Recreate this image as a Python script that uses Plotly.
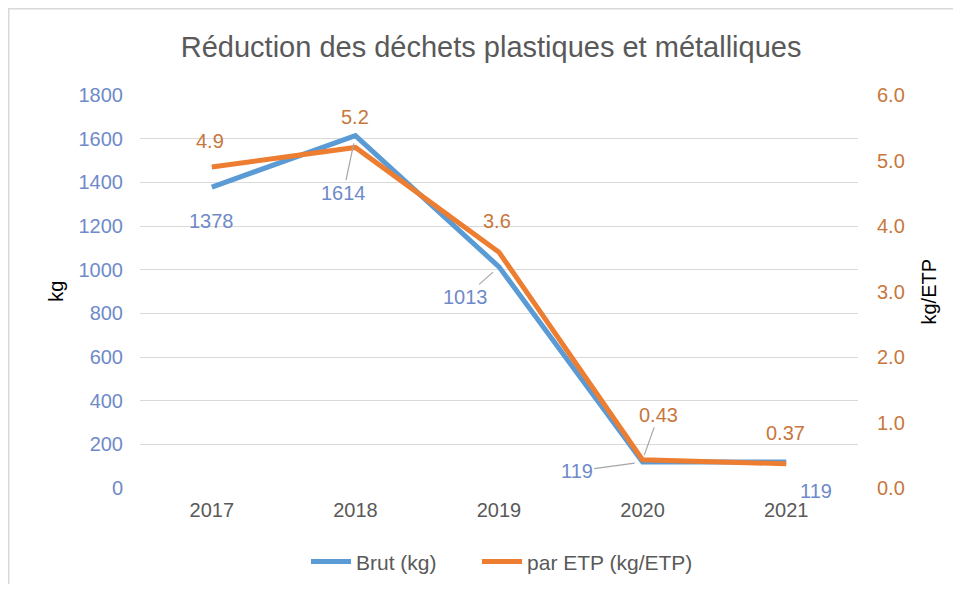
import plotly.graph_objects as go

years = ["2017", "2018", "2019", "2020", "2021"]
brut_kg = [1378, 1614, 1013, 119, 119]
par_etp = [4.9, 5.2, 3.6, 0.43, 0.37]
etp_labels = ["4.9", "5.2", "3.6", "0.43", "0.37"]

BLUE = "#5B9BD5"
ORANGE = "#ED7D31"
BLUE_TXT = "#6F8AC9"
ORANGE_TXT = "#C7773D"
GREY = "#595959"
FONT = "Liberation Sans, Arial, sans-serif"
FS = 20

# figure is placed by the page at (8, 8); size chosen to fit the window
W, H = 945, 576
L, T = 132, 87
PW, PH = 718, 393
R, B = W - L - PW, H - T - PH

fig = go.Figure()
fig.add_trace(go.Scatter(x=years, y=brut_kg, mode="lines", name="Brut (kg)",
                         line=dict(color=BLUE, width=5), legend="legend", showlegend=True))
fig.add_trace(go.Scatter(x=years, y=par_etp, mode="lines", name="par ETP (kg/ETP)",
                         line=dict(color=ORANGE, width=5), yaxis="y2", legend="legend2",
                         showlegend=True))

# label offsets (pixels) and whether a leader line is drawn
brut_off = [(0, 34, False), (-12, 57, True), (-34, 30, True), (-66, 9, True), (30, 29, False)]
etp_off = [(-2, -26, False), (0, -30, False), (-2, -31, False), (16, -45, True), (-1, -31, False)]

annos = []
for i, (ax, ay, lead) in enumerate(brut_off):
    annos.append(dict(x=i, y=brut_kg[i], xref="x", yref="y", text=str(brut_kg[i]),
                      showarrow=True, ax=ax, ay=ay, arrowhead=0, arrowwidth=1.2,
                      arrowcolor="#A6A6A6" if lead else "rgba(0,0,0,0)", standoff=8,
                      font=dict(color=BLUE_TXT, size=FS, family=FONT)))
for i, (ax, ay, lead) in enumerate(etp_off):
    annos.append(dict(x=i, y=par_etp[i], xref="x", yref="y2", text=etp_labels[i],
                      showarrow=True, ax=ax, ay=ay, arrowhead=0, arrowwidth=1.2,
                      arrowcolor="#A6A6A6" if lead else "rgba(0,0,0,0)", standoff=5,
                      font=dict(color=ORANGE_TXT, size=FS, family=FONT)))

annos.append(dict(text="kg", xref="paper", yref="paper", x=-0.118, y=0.5, showarrow=False,
                  xanchor="center", yanchor="middle",
                  textangle=-90, font=dict(color="#000000", size=FS, family=FONT)))
annos.append(dict(text="kg/ETP", xref="paper", yref="paper", x=1.0975, y=0.5, showarrow=False,
                  xanchor="center", yanchor="middle",
                  textangle=-90, font=dict(color="#000000", size=FS, family=FONT)))

leg_common = dict(orientation="h", y=-0.188, yanchor="middle", xanchor="left",
                  font=dict(color=GREY, size=21, family=FONT), itemwidth=40,
                  bgcolor="rgba(0,0,0,0)")

fig.update_layout(
    width=W, height=H,
    showlegend=True,
    margin=dict(l=L, r=R, t=T, b=B, autoexpand=False),
    paper_bgcolor="white", plot_bgcolor="white",
    font=dict(family=FONT, color=GREY, size=FS),
    title=dict(text="Réduction des déchets plastiques et métalliques",
               x=0.489, xref="paper", xanchor="center",
               y=1 - 39 / H, yref="container", yanchor="middle",
               font=dict(size=29, color=GREY, family=FONT)),
    xaxis=dict(type="category", range=[-0.5, 4.5], showgrid=False, showline=False,
               zeroline=False, ticks="",
               tickfont=dict(color=GREY, size=FS), ticklabelstandoff=8, automargin=False),
    yaxis=dict(range=[0, 1800], dtick=200, showgrid=True, gridcolor="#D9D9D9", gridwidth=1,
               zeroline=False, showline=False, ticks="", automargin=False,
               tickfont=dict(color=BLUE_TXT, size=FS), ticklabelstandoff=16),
    yaxis2=dict(range=[0, 6], dtick=1, tickformat=".1f", overlaying="y", side="right",
                showgrid=False, zeroline=False, showline=False, ticks="", automargin=False,
                tickfont=dict(color=ORANGE_TXT, size=FS), ticklabelstandoff=18),
    legend=dict(x=0.2312, **leg_common),
    legend2=dict(x=0.4694, **leg_common),
    annotations=annos,
    shapes=[dict(type="rect", xref="paper", yref="paper",
                 x0=(0.75 - L) / PW, x1=(W + 20 - L) / PW,
                 y0=(T + PH - H - 20) / PH, y1=(T + PH - 0.75) / PH,
                 line=dict(color="#D9D9D9", width=1.5), layer="below")],
)

fig.write_html("out.html")
